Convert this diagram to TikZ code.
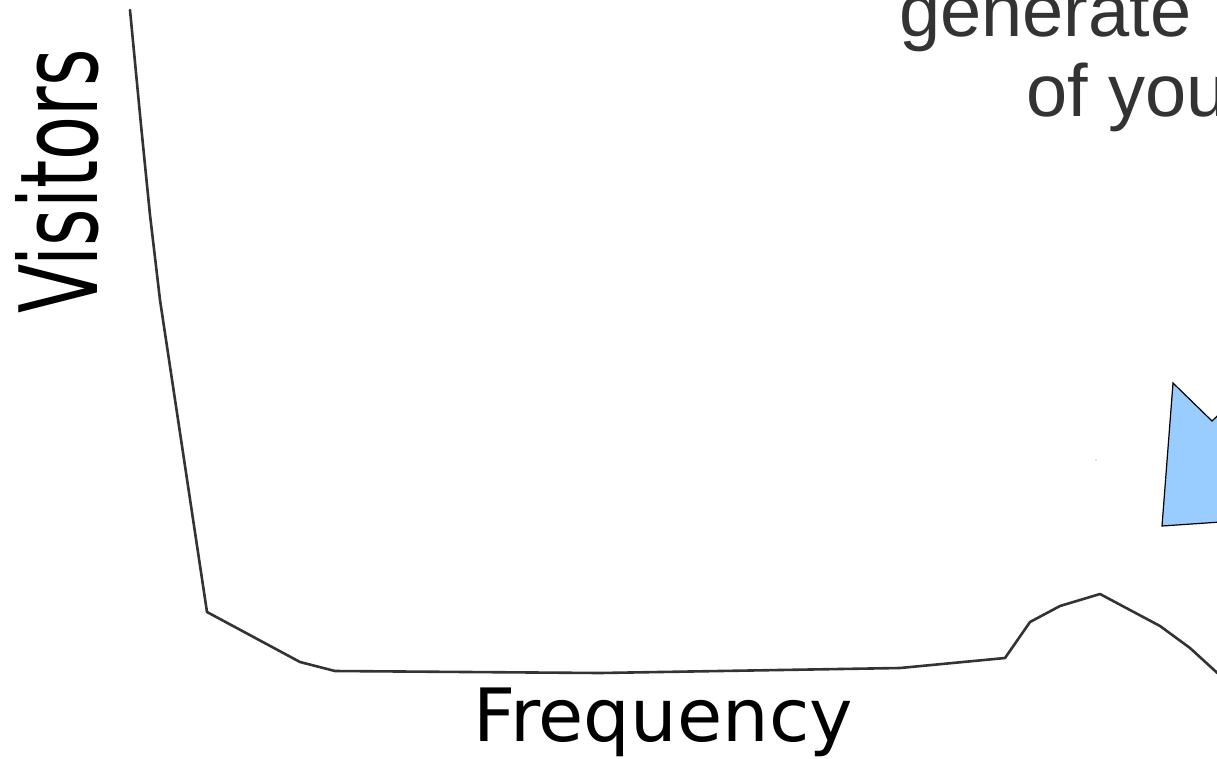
\documentclass[tikz,border=0pt]{standalone}
\usepackage{fontspec}
\newfontfamily\dejavu{DejaVu Sans}
\newfontfamily\arialfont{Liberation Sans}
\definecolor{curvegray}{HTML}{333333}
\definecolor{textgray}{HTML}{333333}
\definecolor{shapeblue}{HTML}{99CCFF}
\tikzset{
  curveline/.style={draw=curvegray, line width=2.6pt, line join=round, line cap=round},
  axislabel/.style={inner sep=0pt, font=\dejavu\fontsize{72}{80}\selectfont, text=black},
  toptext/.style={inner sep=0pt, font=\arialfont\fontsize{74}{80}\selectfont, text=textgray},
  blueshape/.style={fill=shapeblue, draw=black, line width=1.2pt, line join=miter}
}
\begin{document}
\begin{tikzpicture}[x=1pt,y=-1pt]
\useasboundingbox (0,0) rectangle (1217,758);
\clip (0,0) rectangle (1217,758);
% curve
\draw[curveline] (130,10) -- (141,125) -- (150,215) -- (160,300) -- (182,446) -- (207,612) -- (300,662)
  -- (335,671) -- (600,673) -- (900,668) -- (1005,658)
  -- (1030,622) -- (1060,606) -- (1100,594) -- (1160,626) -- (1190,648) -- (1225,680);
% blue shape
\draw[blueshape] (1173,383) -- (1212,421) -- (1250,385) -- (1250,520) -- (1162,526) -- cycle;
% tiny dot
\fill[gray] (1096,460) circle (0.7);
% labels
\node[axislabel, anchor=base west, rotate=90] (visitors) at (97,314) {\scalebox{1}[1.5]{Visitors}};
\node[axislabel, anchor=base west, font=\dejavu\fontsize{73.5}{80}\selectfont] (frequency) at (473,741) {Frequency};
\node[toptext, anchor=base west] (gen) at (899,36) {generate};
\node[toptext, anchor=base west] (ofyou) at (1026,116) {of you};
\end{tikzpicture}
\end{document}
